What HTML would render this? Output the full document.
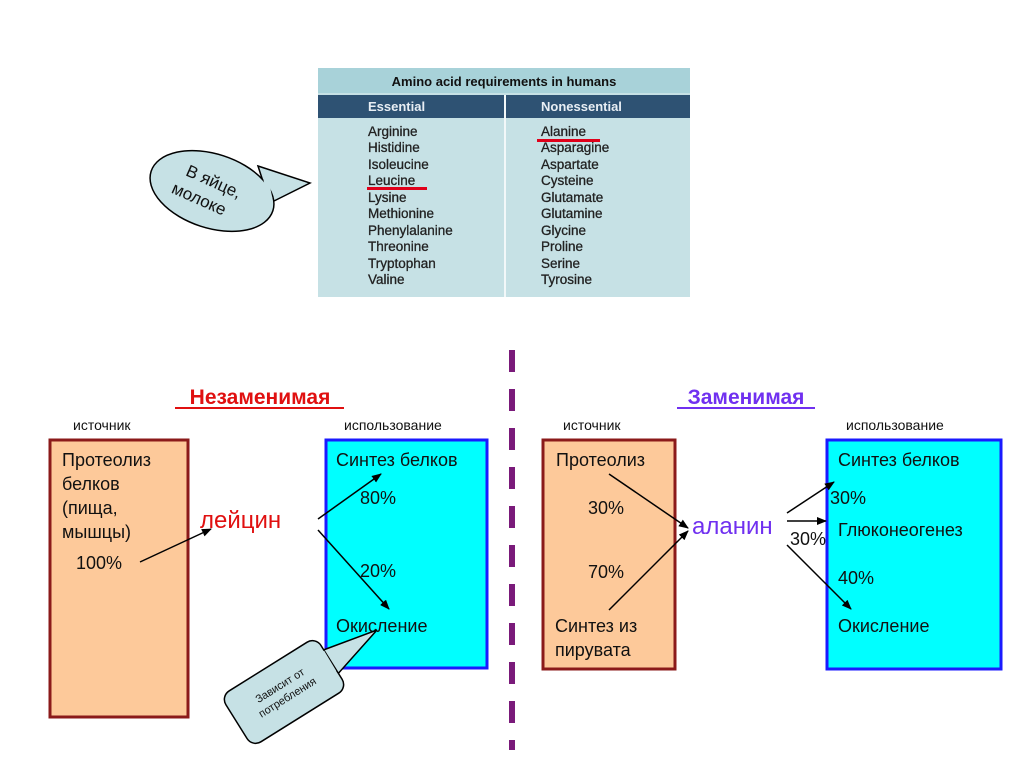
<!DOCTYPE html>
<html><head><meta charset="utf-8"><style>
html,body{margin:0;padding:0;background:#fff;}
svg{display:block;}
text{font-family:"Liberation Sans","DejaVu Sans",sans-serif;}
</style></head><body>
<svg width="1024" height="767" viewBox="0 0 1024 767" xmlns="http://www.w3.org/2000/svg">
<defs>
<marker id="ah" markerWidth="10" markerHeight="8" refX="9" refY="4" orient="auto" markerUnits="userSpaceOnUse">
<path d="M0,0 L10,4 L0,8 Z" fill="#000"/></marker>
</defs>
<!-- table -->
<rect x="318" y="68" width="372" height="229" fill="#c6e1e5"/>
<rect x="318" y="68" width="372" height="25" fill="#a8d2d9"/>
<text x="504" y="86" font-size="13" font-weight="bold" text-anchor="middle" fill="#111">Amino acid requirements in humans</text>
<rect x="318" y="95" width="186" height="23" fill="#2e5273"/>
<rect x="506" y="95" width="184" height="23" fill="#2e5273"/>
<rect x="504" y="95" width="2" height="202" fill="#f2f8f9"/>
<text x="368" y="111" font-size="13" font-weight="bold" fill="#e8eef4">Essential</text>
<text x="541" y="111" font-size="13" font-weight="bold" fill="#e8eef4">Nonessential</text>
<g font-size="13.5" fill="#222" stroke="#222" stroke-width="0.3">
<text x="368" y="136">Arginine</text><text x="368" y="152">Histidine</text><text x="368" y="169">Isoleucine</text><text x="368" y="185">Leucine</text><text x="368" y="202">Lysine</text><text x="368" y="218">Methionine</text><text x="368" y="235">Phenylalanine</text><text x="368" y="251">Threonine</text><text x="368" y="268">Tryptophan</text><text x="368" y="284">Valine</text>
<text x="541" y="136">Alanine</text><text x="541" y="152">Asparagine</text><text x="541" y="169">Aspartate</text><text x="541" y="185">Cysteine</text><text x="541" y="202">Glutamate</text><text x="541" y="218">Glutamine</text><text x="541" y="235">Glycine</text><text x="541" y="251">Proline</text><text x="541" y="268">Serine</text><text x="541" y="284">Tyrosine</text>
</g>
<rect x="367" y="187" width="60" height="3" fill="#e0001a"/>
<rect x="537" y="139" width="63" height="3" fill="#e0001a"/>
<!-- balloon -->
<path d="M258,166 L310,183 L270,203 Z" fill="#c6e1e5" stroke="#000" stroke-width="1.5"/>
<ellipse cx="212" cy="191" rx="64" ry="37" transform="rotate(18 212 191)" fill="#c6e1e5" stroke="#000" stroke-width="1.5"/>
<path d="M264,170 L270,199" stroke="#c6e1e5" stroke-width="5"/>
<text x="182" y="182" font-size="17" transform="rotate(24 200 185)" fill="#111">В яйце,</text>
<text x="170" y="205" font-size="17" transform="rotate(24 200 200)" fill="#111">молоке</text>
<!-- dashed line -->
<line x1="512" y1="350" x2="512" y2="750" stroke="#7a1a7a" stroke-width="6" stroke-dasharray="22,17"/>
<!-- titles -->
<text x="260" y="404" font-size="21" font-weight="bold" text-anchor="middle" fill="#e01010">Незаменимая</text>
<line x1="175" y1="408" x2="344" y2="408" stroke="#e01010" stroke-width="2"/>
<text x="746" y="404" font-size="21" font-weight="bold" text-anchor="middle" fill="#7030f0">Заменимая</text>
<line x1="677" y1="408" x2="815" y2="408" stroke="#7030f0" stroke-width="2"/>
<g font-size="14" fill="#111">
<text x="73" y="430">источник</text><text x="344" y="430">использование</text>
<text x="563" y="430">источник</text><text x="846" y="430">использование</text>
</g>
<!-- boxes -->
<rect x="50" y="440" width="138" height="277" fill="#fdc99a" stroke="#8b1a1a" stroke-width="3"/>
<rect x="326" y="440" width="161" height="228" fill="#00ffff" stroke="#1a1aff" stroke-width="3"/>
<rect x="543" y="440" width="132" height="229" fill="#fdc99a" stroke="#8b1a1a" stroke-width="3"/>
<rect x="827" y="440" width="174" height="229" fill="#00ffff" stroke="#1a1aff" stroke-width="3"/>
<g font-size="18" fill="#111">
<text x="62" y="466">Протеолиз</text><text x="62" y="490">белков</text><text x="62" y="514">(пища,</text><text x="62" y="538">мышцы)</text>
<text x="76" y="569">100%</text>
<text x="336" y="466">Синтез белков</text><text x="360" y="504">80%</text><text x="360" y="577">20%</text><text x="336" y="632">Окисление</text>
<text x="556" y="466">Протеолиз</text><text x="588" y="514">30%</text><text x="588" y="578">70%</text><text x="555" y="632">Синтез из</text><text x="555" y="656">пирувата</text>
<text x="838" y="466">Синтез белков</text><text x="830" y="504">30%</text><text x="838" y="536">Глюконеогенез</text><text x="790" y="545">30%</text><text x="838" y="584">40%</text><text x="838" y="632">Окисление</text>
</g>
<text x="200" y="528" font-size="24" fill="#e01010">лейцин</text>
<text x="692" y="534" font-size="24" fill="#7030f0">аланин</text>
<!-- arrows -->
<g stroke="#000" stroke-width="1.5" marker-end="url(#ah)">
<line x1="140" y1="562" x2="211" y2="529"/>
<line x1="318" y1="519" x2="381" y2="474"/>
<line x1="318" y1="530" x2="389" y2="609"/>
<line x1="609" y1="474" x2="688" y2="528"/>
<line x1="609" y1="610" x2="688" y2="531"/>
<line x1="787" y1="513" x2="834" y2="482"/>
<line x1="787" y1="521" x2="826" y2="521"/>
<line x1="787" y1="545" x2="851" y2="609"/>
</g>
<!-- callout -->
<path d="M318,652 L377,630 L336,676 Z" fill="#c6e1e5" stroke="#000" stroke-width="1.5"/>
<g transform="rotate(-32 284 692)">
<rect x="228" y="662" width="112" height="60" rx="10" fill="#c6e1e5" stroke="#000" stroke-width="1.5"/>
<text x="284" y="688" font-size="11" text-anchor="middle" fill="#111">Зависит от</text>
<text x="284" y="702" font-size="11" text-anchor="middle" fill="#111">потребления</text>
</g>
<path d="M322,652 L334,672" stroke="#c6e1e5" stroke-width="5"/>
</svg>
</body></html>
